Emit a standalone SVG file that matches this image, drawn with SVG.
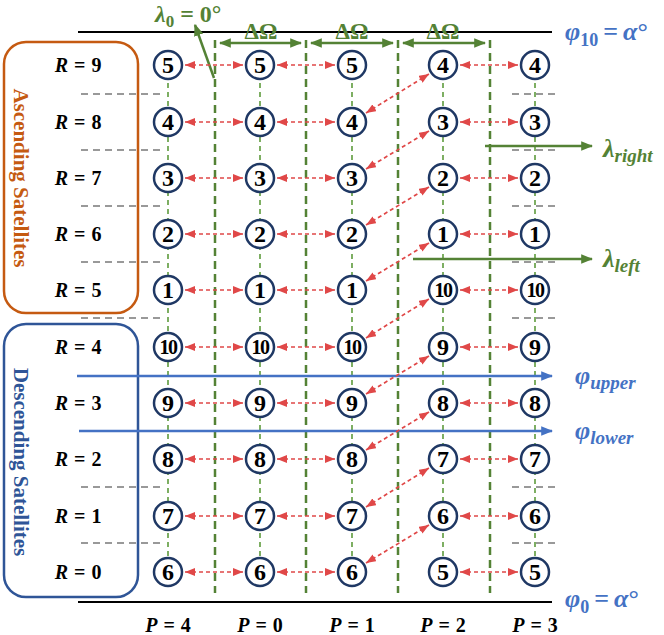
<svg xmlns="http://www.w3.org/2000/svg" width="664" height="635" viewBox="0 0 664 635">
<style>
.nd circle{fill:#fff;stroke:#1F3864;stroke-width:2.5}
.nd text{font-family:"Liberation Serif",serif;font-weight:bold;font-size:24px;text-anchor:middle;fill:#000}
.nd text.s{font-size:20px;letter-spacing:-1.5px}
.red{stroke:#E04848;stroke-width:1.7;stroke-dasharray:4 3;fill:none;marker-start:url(#ra);marker-end:url(#ra)}
.col{stroke:#5E9B3C;stroke-width:1.6;stroke-dasharray:5 4}
.sep{stroke:#548235;stroke-width:2.5;stroke-dasharray:8 5}
.gray{stroke:#999;stroke-width:2;stroke-dasharray:7 5}
.lbl{font-family:"Liberation Serif",serif;font-weight:bold;font-size:20px;text-anchor:middle;fill:#000}
.it{font-style:italic}
.grn{fill:#548235}
.blu{fill:#4472C4}
.math{font-family:"Liberation Serif",serif;font-weight:bold}
</style>
<defs>
<marker id="ra" viewBox="0 0 10 8" refX="10" refY="4" markerWidth="10" markerHeight="8" markerUnits="userSpaceOnUse" orient="auto-start-reverse"><path d="M0,0 L10,4 L0,8 z" fill="#E04848"/></marker>
<marker id="ga" viewBox="0 0 10 8" refX="9" refY="4" markerWidth="12" markerHeight="10" markerUnits="userSpaceOnUse" orient="auto-start-reverse"><path d="M0,0 L10,4 L0,8 z" fill="#548235"/></marker>
<marker id="ba" viewBox="0 0 10 8" refX="9" refY="4" markerWidth="12" markerHeight="10" markerUnits="userSpaceOnUse" orient="auto"><path d="M0,0 L10,4 L0,8 z" fill="#4472C4"/></marker>
</defs>

<!-- side boxes -->
<g id="ascending-box">
<rect x="4" y="42" width="134" height="271" rx="22" fill="none" stroke="#C55A11" stroke-width="2.5"/>
<text transform="translate(21,178) rotate(90)" dominant-baseline="central" text-anchor="middle" font-family="Liberation Serif, serif" font-weight="bold" font-size="21" fill="#C55A11">Ascending Satellites</text>
</g>
<g id="descending-box">
<rect x="4" y="324" width="134" height="273" rx="22" fill="none" stroke="#2F5597" stroke-width="2.5"/>
<text transform="translate(21,462) rotate(90)" dominant-baseline="central" text-anchor="middle" font-family="Liberation Serif, serif" font-weight="bold" font-size="21" fill="#2F5597">Descending Satellites</text>
</g>

<!-- R labels -->
<g id="r-labels" class="lbl">
<text x="78" y="72"><tspan class="it">R</tspan><tspan dx="6">=</tspan><tspan dx="6">9</tspan></text>
<text x="78" y="129"><tspan class="it">R</tspan><tspan dx="6">=</tspan><tspan dx="6">8</tspan></text>
<text x="78" y="185"><tspan class="it">R</tspan><tspan dx="6">=</tspan><tspan dx="6">7</tspan></text>
<text x="78" y="241"><tspan class="it">R</tspan><tspan dx="6">=</tspan><tspan dx="6">6</tspan></text>
<text x="78" y="297"><tspan class="it">R</tspan><tspan dx="6">=</tspan><tspan dx="6">5</tspan></text>
<text x="78" y="354"><tspan class="it">R</tspan><tspan dx="6">=</tspan><tspan dx="6">4</tspan></text>
<text x="78" y="410"><tspan class="it">R</tspan><tspan dx="6">=</tspan><tspan dx="6">3</tspan></text>
<text x="78" y="466"><tspan class="it">R</tspan><tspan dx="6">=</tspan><tspan dx="6">2</tspan></text>
<text x="78" y="523"><tspan class="it">R</tspan><tspan dx="6">=</tspan><tspan dx="6">1</tspan></text>
<text x="78" y="579"><tspan class="it">R</tspan><tspan dx="6">=</tspan><tspan dx="6">0</tspan></text>
</g>

<!-- P labels -->
<g id="p-labels" class="lbl">
<text x="168" y="632"><tspan class="it">P</tspan><tspan dx="6">=</tspan><tspan dx="6">4</tspan></text>
<text x="260" y="632"><tspan class="it">P</tspan><tspan dx="6">=</tspan><tspan dx="6">0</tspan></text>
<text x="352" y="632"><tspan class="it">P</tspan><tspan dx="6">=</tspan><tspan dx="6">1</tspan></text>
<text x="443" y="632"><tspan class="it">P</tspan><tspan dx="6">=</tspan><tspan dx="6">2</tspan></text>
<text x="535" y="632"><tspan class="it">P</tspan><tspan dx="6">=</tspan><tspan dx="6">3</tspan></text>
</g>

<g id="connectors">
<!-- boundary lines -->
<line x1="78" y1="32" x2="552" y2="32" stroke="#000" stroke-width="2"/>
<line x1="78" y1="602" x2="552" y2="602" stroke="#000" stroke-width="2"/>
<!-- gray dashes -->
<g class="gray">
<line x1="81" y1="94" x2="160" y2="94"/><line x1="81" y1="150" x2="160" y2="150"/>
<line x1="81" y1="206" x2="160" y2="206"/><line x1="81" y1="262" x2="160" y2="262"/>
<line x1="81" y1="318" x2="160" y2="318"/><line x1="81" y1="487" x2="160" y2="487"/>
<line x1="81" y1="543" x2="160" y2="543"/>
<line x1="512" y1="94" x2="555" y2="94"/><line x1="512" y1="150" x2="555" y2="150"/>
<line x1="512" y1="206" x2="555" y2="206"/><line x1="512" y1="262" x2="555" y2="262"/>
<line x1="512" y1="318" x2="555" y2="318"/><line x1="512" y1="487" x2="555" y2="487"/>
<line x1="512" y1="543" x2="555" y2="543"/>
</g>
<!-- column lines -->
<g class="col">
<line x1="168" y1="65" x2="168" y2="572"/>
<line x1="260" y1="65" x2="260" y2="572"/>
<line x1="352" y1="65" x2="352" y2="572"/>
<line x1="443" y1="65" x2="443" y2="572"/>
<line x1="535" y1="65" x2="535" y2="572"/>
</g>
<!-- separators -->
<g class="sep">
<line x1="215" y1="40" x2="215" y2="593"/>
<line x1="306" y1="40" x2="306" y2="593"/>
<line x1="398" y1="40" x2="398" y2="593"/>
<line x1="490" y1="40" x2="490" y2="593"/>
</g>
<!-- delta omega arrows -->
<g stroke="#548235" stroke-width="2.5" marker-start="url(#ga)" marker-end="url(#ga)">
<line x1="220" y1="43" x2="301" y2="43"/>
<line x1="311" y1="43" x2="393" y2="43"/>
<line x1="403" y1="43" x2="485" y2="43"/>
</g>
<!-- lambda0 arrow -->
<line x1="214" y1="78" x2="195" y2="25" stroke="#548235" stroke-width="2.5" marker-end="url(#ga)"/>
<!-- lambda right/left arrows -->
<line x1="485" y1="146" x2="592" y2="146" stroke="#548235" stroke-width="2.5" marker-end="url(#ga)"/>
<line x1="413" y1="259" x2="592" y2="259" stroke="#548235" stroke-width="2.5" marker-end="url(#ga)"/>
<!-- phi upper/lower -->
<line x1="77" y1="376" x2="552" y2="376" stroke="#4472C4" stroke-width="2.5" marker-end="url(#ba)"/>
<line x1="79" y1="431" x2="552" y2="431" stroke="#4472C4" stroke-width="2.5" marker-end="url(#ba)"/>
<!-- horizontal red arrows -->
<g class="red">
<line x1="185" y1="65" x2="243" y2="65"/><line x1="277" y1="65" x2="335" y2="65"/><line x1="460" y1="65" x2="518" y2="65"/>
<line x1="185" y1="122" x2="243" y2="122"/><line x1="277" y1="122" x2="335" y2="122"/><line x1="460" y1="122" x2="518" y2="122"/>
<line x1="185" y1="178" x2="243" y2="178"/><line x1="277" y1="178" x2="335" y2="178"/><line x1="460" y1="178" x2="518" y2="178"/>
<line x1="185" y1="234" x2="243" y2="234"/><line x1="277" y1="234" x2="335" y2="234"/><line x1="460" y1="234" x2="518" y2="234"/>
<line x1="185" y1="290" x2="243" y2="290"/><line x1="277" y1="290" x2="335" y2="290"/><line x1="460" y1="290" x2="518" y2="290"/>
<line x1="185" y1="347" x2="243" y2="347"/><line x1="277" y1="347" x2="335" y2="347"/><line x1="460" y1="347" x2="518" y2="347"/>
<line x1="185" y1="403" x2="243" y2="403"/><line x1="277" y1="403" x2="335" y2="403"/><line x1="460" y1="403" x2="518" y2="403"/>
<line x1="185" y1="459" x2="243" y2="459"/><line x1="277" y1="459" x2="335" y2="459"/><line x1="460" y1="459" x2="518" y2="459"/>
<line x1="185" y1="516" x2="243" y2="516"/><line x1="277" y1="516" x2="335" y2="516"/><line x1="460" y1="516" x2="518" y2="516"/>
<line x1="185" y1="572" x2="243" y2="572"/><line x1="277" y1="572" x2="335" y2="572"/><line x1="460" y1="572" x2="518" y2="572"/>
<!-- diagonals P=1 row R to P=2 row R+1 -->
<line x1="366" y1="113" x2="429" y2="74"/>
<line x1="366" y1="169" x2="429" y2="131"/>
<line x1="366" y1="225" x2="429" y2="187"/>
<line x1="366" y1="281" x2="429" y2="243"/>
<line x1="366" y1="338" x2="429" y2="299"/>
<line x1="366" y1="394" x2="429" y2="356"/>
<line x1="366" y1="450" x2="429" y2="412"/>
<line x1="366" y1="507" x2="429" y2="468"/>
<line x1="366" y1="563" x2="429" y2="525"/>
</g>
</g>

<!-- annotations -->
<g id="annotations">
<g class="math grn" font-size="23" text-anchor="middle">
<text x="261" y="39">ΔΩ</text><text x="352" y="39">ΔΩ</text><text x="443" y="39">ΔΩ</text>
</g>
<text x="155" y="22" class="math grn" font-size="24"><tspan font-style="italic">λ</tspan><tspan font-size="17" dy="5">0</tspan><tspan dy="-5" dx="6">=</tspan><tspan dx="6">0°</tspan></text>
<text x="603" y="157" class="math grn" font-size="26"><tspan font-style="italic">λ</tspan><tspan font-size="19" font-style="italic" dy="5">right</tspan></text>
<text x="603" y="267" class="math grn" font-size="26"><tspan font-style="italic">λ</tspan><tspan font-size="19" font-style="italic" dy="5">left</tspan></text>
<text x="565" y="40" class="math blu" font-size="26"><tspan font-style="italic">φ</tspan><tspan font-size="18" dy="6">10</tspan><tspan dy="-6" dx="5">=</tspan><tspan font-style="italic" dx="5">α</tspan>°</text>
<text x="565" y="607" class="math blu" font-size="26"><tspan font-style="italic">φ</tspan><tspan font-size="18" dy="6">0</tspan><tspan dy="-6" dx="5">=</tspan><tspan font-style="italic" dx="5">α</tspan>°</text>
<text x="575" y="384" class="math blu" font-size="26"><tspan font-style="italic">φ</tspan><tspan font-size="19" font-style="italic" dy="5">upper</tspan></text>
<text x="575" y="439" class="math blu" font-size="26"><tspan font-style="italic">φ</tspan><tspan font-size="19" font-style="italic" dy="5">lower</tspan></text>
</g>

<!-- nodes: columns P=4,0,1 -->
<g id="n-P4-R9" class="nd"><circle cx="168" cy="65" r="14"/><text x="168" y="73">5</text></g>
<g id="n-P4-R8" class="nd"><circle cx="168" cy="122" r="14"/><text x="168" y="130">4</text></g>
<g id="n-P4-R7" class="nd"><circle cx="168" cy="178" r="14"/><text x="168" y="186">3</text></g>
<g id="n-P4-R6" class="nd"><circle cx="168" cy="234" r="14"/><text x="168" y="242">2</text></g>
<g id="n-P4-R5" class="nd"><circle cx="168" cy="290" r="14"/><text x="168" y="298">1</text></g>
<g id="n-P4-R4" class="nd"><circle cx="168" cy="347" r="14"/><text class="s" x="168" y="354">10</text></g>
<g id="n-P4-R3" class="nd"><circle cx="168" cy="403" r="14"/><text x="168" y="411">9</text></g>
<g id="n-P4-R2" class="nd"><circle cx="168" cy="459" r="14"/><text x="168" y="467">8</text></g>
<g id="n-P4-R1" class="nd"><circle cx="168" cy="516" r="14"/><text x="168" y="524">7</text></g>
<g id="n-P4-R0" class="nd"><circle cx="168" cy="572" r="14"/><text x="168" y="580">6</text></g>

<g id="n-P0-R9" class="nd"><circle cx="260" cy="65" r="14"/><text x="260" y="73">5</text></g>
<g id="n-P0-R8" class="nd"><circle cx="260" cy="122" r="14"/><text x="260" y="130">4</text></g>
<g id="n-P0-R7" class="nd"><circle cx="260" cy="178" r="14"/><text x="260" y="186">3</text></g>
<g id="n-P0-R6" class="nd"><circle cx="260" cy="234" r="14"/><text x="260" y="242">2</text></g>
<g id="n-P0-R5" class="nd"><circle cx="260" cy="290" r="14"/><text x="260" y="298">1</text></g>
<g id="n-P0-R4" class="nd"><circle cx="260" cy="347" r="14"/><text class="s" x="260" y="354">10</text></g>
<g id="n-P0-R3" class="nd"><circle cx="260" cy="403" r="14"/><text x="260" y="411">9</text></g>
<g id="n-P0-R2" class="nd"><circle cx="260" cy="459" r="14"/><text x="260" y="467">8</text></g>
<g id="n-P0-R1" class="nd"><circle cx="260" cy="516" r="14"/><text x="260" y="524">7</text></g>
<g id="n-P0-R0" class="nd"><circle cx="260" cy="572" r="14"/><text x="260" y="580">6</text></g>

<g id="n-P1-R9" class="nd"><circle cx="352" cy="65" r="14"/><text x="352" y="73">5</text></g>
<g id="n-P1-R8" class="nd"><circle cx="352" cy="122" r="14"/><text x="352" y="130">4</text></g>
<g id="n-P1-R7" class="nd"><circle cx="352" cy="178" r="14"/><text x="352" y="186">3</text></g>
<g id="n-P1-R6" class="nd"><circle cx="352" cy="234" r="14"/><text x="352" y="242">2</text></g>
<g id="n-P1-R5" class="nd"><circle cx="352" cy="290" r="14"/><text x="352" y="298">1</text></g>
<g id="n-P1-R4" class="nd"><circle cx="352" cy="347" r="14"/><text class="s" x="352" y="354">10</text></g>
<g id="n-P1-R3" class="nd"><circle cx="352" cy="403" r="14"/><text x="352" y="411">9</text></g>
<g id="n-P1-R2" class="nd"><circle cx="352" cy="459" r="14"/><text x="352" y="467">8</text></g>
<g id="n-P1-R1" class="nd"><circle cx="352" cy="516" r="14"/><text x="352" y="524">7</text></g>
<g id="n-P1-R0" class="nd"><circle cx="352" cy="572" r="14"/><text x="352" y="580">6</text></g>

<!-- columns P=2,3 -->
<g id="n-P2-R9" class="nd"><circle cx="443" cy="65" r="14"/><text x="443" y="73">4</text></g>
<g id="n-P2-R8" class="nd"><circle cx="443" cy="122" r="14"/><text x="443" y="130">3</text></g>
<g id="n-P2-R7" class="nd"><circle cx="443" cy="178" r="14"/><text x="443" y="186">2</text></g>
<g id="n-P2-R6" class="nd"><circle cx="443" cy="234" r="14"/><text x="443" y="242">1</text></g>
<g id="n-P2-R5" class="nd"><circle cx="443" cy="290" r="14"/><text class="s" x="443" y="297">10</text></g>
<g id="n-P2-R4" class="nd"><circle cx="443" cy="347" r="14"/><text x="443" y="355">9</text></g>
<g id="n-P2-R3" class="nd"><circle cx="443" cy="403" r="14"/><text x="443" y="411">8</text></g>
<g id="n-P2-R2" class="nd"><circle cx="443" cy="459" r="14"/><text x="443" y="467">7</text></g>
<g id="n-P2-R1" class="nd"><circle cx="443" cy="516" r="14"/><text x="443" y="524">6</text></g>
<g id="n-P2-R0" class="nd"><circle cx="443" cy="572" r="14"/><text x="443" y="580">5</text></g>

<g id="n-P3-R9" class="nd"><circle cx="535" cy="65" r="14"/><text x="535" y="73">4</text></g>
<g id="n-P3-R8" class="nd"><circle cx="535" cy="122" r="14"/><text x="535" y="130">3</text></g>
<g id="n-P3-R7" class="nd"><circle cx="535" cy="178" r="14"/><text x="535" y="186">2</text></g>
<g id="n-P3-R6" class="nd"><circle cx="535" cy="234" r="14"/><text x="535" y="242">1</text></g>
<g id="n-P3-R5" class="nd"><circle cx="535" cy="290" r="14"/><text class="s" x="535" y="297">10</text></g>
<g id="n-P3-R4" class="nd"><circle cx="535" cy="347" r="14"/><text x="535" y="355">9</text></g>
<g id="n-P3-R3" class="nd"><circle cx="535" cy="403" r="14"/><text x="535" y="411">8</text></g>
<g id="n-P3-R2" class="nd"><circle cx="535" cy="459" r="14"/><text x="535" y="467">7</text></g>
<g id="n-P3-R1" class="nd"><circle cx="535" cy="516" r="14"/><text x="535" y="524">6</text></g>
<g id="n-P3-R0" class="nd"><circle cx="535" cy="572" r="14"/><text x="535" y="580">5</text></g>
</svg>
